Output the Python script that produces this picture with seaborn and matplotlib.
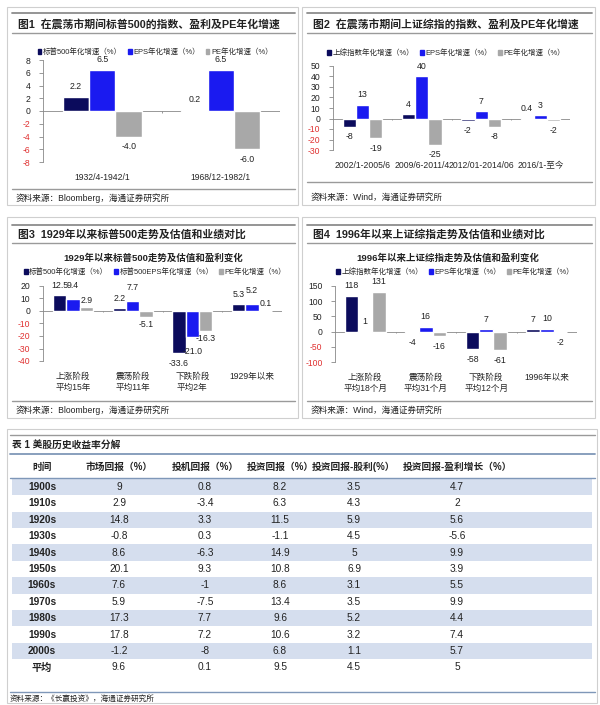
import pandas as pd
import seaborn as sns
import matplotlib.pyplot as plt
from matplotlib.patches import Rectangle, Patch

sns.set_theme(style='white')
plt.rcParams['font.family'] = ['Liberation Sans', 'Noto Sans CJK SC', 'DejaVu Sans']

# ---- data ----
p1_cats = ['1932/4-1942/1', '1968/12-1982/1']
p1_series = ['标普500年化增速（%）', 'EPS年化增速（%）', 'PE年化增速（%）']
p1_index = [2.2, 0.2]
p1_eps = [6.5, 6.5]
p1_pe = [-4.0, -6.0]

p2_cats = ['2002/1-2005/6', '2009/6-2011/4', '2012/01-2014/06', '2016/1-至今']
p2_series = ['上综指数年化增速（%）', 'EPS年化增速（%）', 'PE年化增速（%）']
p2_index = [-8, 4, -2, 0.4]
p2_eps = [13, 40, 7, 3]
p2_pe = [-19, -25, -8, -2]

p3_cats = ['上涨阶段\n平均15年', '震荡阶段\n平均11年', '下跌阶段\n平均2年', '1929年以来']
p3_series = ['标普500年化增速（%）', '标普500EPS年化增速（%）', 'PE年化增速（%）']
p3_index = [12.5, 2.2, -33.6, 5.3]
p3_eps = [9.4, 7.7, -21.0, 5.2]
p3_pe = [2.9, -5.1, -16.3, 0.1]

p4_cats = ['上涨阶段\n平均18个月', '震荡阶段\n平均31个月', '下跌阶段\n平均12个月', '1996年以来']
p4_series = ['上综指数年化增速（%）', 'EPS年化增速（%）', 'PE年化增速（%）']
p4_index = [118, -4, -58, 7]
p4_eps = [1, 16, 7, 10]
p4_pe = [131, -16, -61, -2]

tbl_header = ['时间', '市场回报（%）', '投机回报（%）', '投资回报（%）', '投资回报-股利(%）', '投资回报-盈利增长（%）']
tbl_decade = ['1900s', '1910s', '1920s', '1930s', '1940s', '1950s', '1960s', '1970s', '1980s', '1990s', '2000s', '平均']
tbl_market = ['9', '2.9', '14.8', '-0.8', '8.6', '20.1', '7.6', '5.9', '17.3', '17.8', '-1.2', '9.6']
tbl_spec = ['0.8', '-3.4', '3.3', '0.3', '-6.3', '9.3', '-1', '-7.5', '7.7', '7.2', '-8', '0.1']
tbl_invest = ['8.2', '6.3', '11.5', '-1.1', '14.9', '10.8', '8.6', '13.4', '9.6', '10.6', '6.8', '9.5']
tbl_div = ['3.5', '4.3', '5.9', '4.5', '5', '6.9', '3.1', '3.5', '5.2', '3.2', '1.1', '4.5']
tbl_growth = ['4.7', '2', '5.6', '-5.6', '9.9', '3.9', '5.5', '9.9', '4.4', '7.4', '5.7', '5']

colors = ['#0B0B5C', '#1A1AF0', '#A8A8A8']
W, H = 600, 705

fig = plt.figure(figsize=(6, 7.05), dpi=100)
bg = fig.add_axes([0, 0, 1, 1])
bg.set_xlim(0, W)
bg.set_ylim(H, 0)
bg.axis('off')


def px_axes(left, right, top, bottom):
    return fig.add_axes([left / W, 1 - bottom / H, (right - left) / W, (bottom - top) / H])


def panel_frame(x0, x1, y0, y1, rule_top, rule_mid, rule_bot, title, title_y, source, source_y):
    bg.add_patch(Rectangle((x0, y0), x1 - x0, y1 - y0, fill=False, ec='#CFCFCF', lw=0.8))
    bg.plot([x0 + 5, x1 - 3], [rule_top, rule_top], color='#8C8C8C', lw=1.3)
    bg.plot([x0 + 5, x1 - 3], [rule_mid, rule_mid], color='#9A9A9A', lw=1.0)
    bg.plot([x0 + 5, x1 - 3], [rule_bot, rule_bot], color='#9A9A9A', lw=1.0)
    bg.text(x0 + 11, title_y, title, fontsize=7.8, fontweight='bold', va='center', ha='left', color='#222222')
    bg.text(x0 + 9, source_y, source, fontsize=6.2, va='center', ha='left', color='#222222')


def bar_panel(box, cats, series, vals, ylim, step, fmt, legend_xy, subtitle=None, pads=(4, 4, 4)):
    ax = px_axes(*box)
    df = pd.DataFrame({
        'cat': [c for s in vals for c in cats],
        'series': [series[i] for i, s in enumerate(vals) for _ in cats],
        'value': [v for s in vals for v in s],
    })
    sns.barplot(data=df, x='cat', y='value', hue='series', hue_order=series,
                palette=colors, width=0.67, saturation=1, ax=ax, legend=False)
    for cont, pad in zip(ax.containers, pads):
        ax.bar_label(cont, fmt=fmt, fontsize=6.3, padding=pad, color='#222222')
    ax.set_ylim(*ylim)
    ax.set_xlim(-0.5, len(cats) - 0.5)
    ticks = list(range(ylim[0], ylim[1] + 1, step))
    ax.set_yticks(ticks)
    ax.set_yticklabels([str(t) for t in ticks])
    for lab, t in zip(ax.get_yticklabels(), ticks):
        lab.set_color('#E03030' if t < 0 else '#222222')
    ax.tick_params(axis='y', labelsize=6.2, length=3, width=0.6, color='#888888', pad=6, left=True)
    ax.tick_params(axis='x', labelsize=6.2, length=0, pad=8)
    ax.set_xlabel('')
    ax.set_ylabel('')
    for sp in ['top', 'right', 'bottom']:
        ax.spines[sp].set_visible(False)
    ax.spines['left'].set_color('#888888')
    ax.spines['left'].set_linewidth(0.6)
    ax.axhline(0, color='#888888', lw=0.6, zorder=0)
    ax.vlines([i + 0.5 for i in range(len(cats) - 1)], 0, -(ylim[1] - ylim[0]) * 0.015,
              color='#888888', lw=0.6)
    ax.patch.set_alpha(0)
    handles = [Patch(color=c) for c in colors]
    lx, ly = legend_xy
    ax.legend(handles, series, loc='center', bbox_to_anchor=(lx / W, 1 - ly / H),
              bbox_transform=fig.transFigure, ncol=3,
              frameon=False, fontsize=5.4, handlelength=0.5, handleheight=0.7,
              handletextpad=0.2, columnspacing=0.8, borderaxespad=0)
    if subtitle:
        bg.text(subtitle[1], subtitle[2], subtitle[0], ha='center', va='center',
                fontsize=6.8, fontweight='bold', color='#222222')
    return ax


# panel frames
panel_frame(7, 298, 7, 205, 13, 33, 189, '图1  在震荡市期间标普500的指数、盈利及PE年化增速', 24,
            '资料来源：Bloomberg，海通证券研究所', 198)
panel_frame(302, 595, 7, 205, 13, 33, 182, '图2  在震荡市期间上证综指的指数、盈利及PE年化增速', 24,
            '资料来源：Wind，海通证券研究所', 197)
panel_frame(7, 298, 217, 418, 225, 243, 401, '图3  1929年以来标普500走势及估值和业绩对比', 234,
            '资料来源：Bloomberg，海通证券研究所', 410)
panel_frame(302, 595, 217, 418, 225, 243, 401, '图4  1996年以来上证综指走势及估值和业绩对比', 234,
            '资料来源：Wind，海通证券研究所', 410)

bar_panel((43, 280, 60, 162), p1_cats, p1_series, [p1_index, p1_eps, p1_pe], (-8, 8), 2, '%.1f',
          (155, 52))
bar_panel((333, 570, 66, 150), p2_cats, p2_series, [p2_index, p2_eps, p2_pe], (-30, 50), 10, '%g',
          (446, 53))
bar_panel((43, 282, 286, 361), p3_cats, p3_series, [p3_index, p3_eps, p3_pe], (-40, 20), 10, '%.1f',
          (155, 272), ('1929年以来标普500走势及估值和盈利变化', 153, 258), pads=(4, 7, 2))
bar_panel((335, 577, 286, 362), p4_cats, p4_series, [p4_index, p4_eps, p4_pe], (-100, 150), 50, '%g',
          (455, 272), ('1996年以来上证综指走势及估值和盈利变化', 448, 258))

# ---- table ----
bg.add_patch(Rectangle((7, 429), 590, 274, fill=False, ec='#CFCFCF', lw=0.8))
bg.plot([10, 595], [435, 435], color='#9A9A9A', lw=1.0)
bg.text(12, 445, '表 1 美股历史收益率分解', fontsize=7, fontweight='bold', va='center', ha='left', color='#222222')
bg.plot([10, 595], [454, 454], color='#7F97B8', lw=1.3)
bg.plot([10, 595], [478, 478], color='#7F97B8', lw=1.0)
col_x = [42, 119, 205, 280, 354, 457]
for x, h in zip(col_x, tbl_header):
    bg.text(x, 467, h, fontsize=7, fontweight='bold', ha='center', va='center', color='#222222')
row_h = 16.4
columns = [tbl_decade, tbl_market, tbl_spec, tbl_invest, tbl_div, tbl_growth]
for i in range(len(tbl_decade)):
    yc = 487 + i * row_h
    if i % 2 == 0 and i < len(tbl_decade) - 1:
        bg.add_patch(Rectangle((12, yc - row_h / 2), 580, row_h, color='#D5DEEE', lw=0))
    for j, (x, col) in enumerate(zip(col_x, columns)):
        bg.text(x, yc, col[i], fontsize=7.3, ha='center', va='center', color='#222222',
                fontweight='bold' if j == 0 else 'normal')
bg.plot([10, 595], [692, 692], color='#7F97B8', lw=1.0)
bg.text(10, 699, '资料来源：《长赢投资》，海通证券研究所', fontsize=5.5, va='center', ha='left', color='#222222')

fig.savefig('out.png', dpi=100)
